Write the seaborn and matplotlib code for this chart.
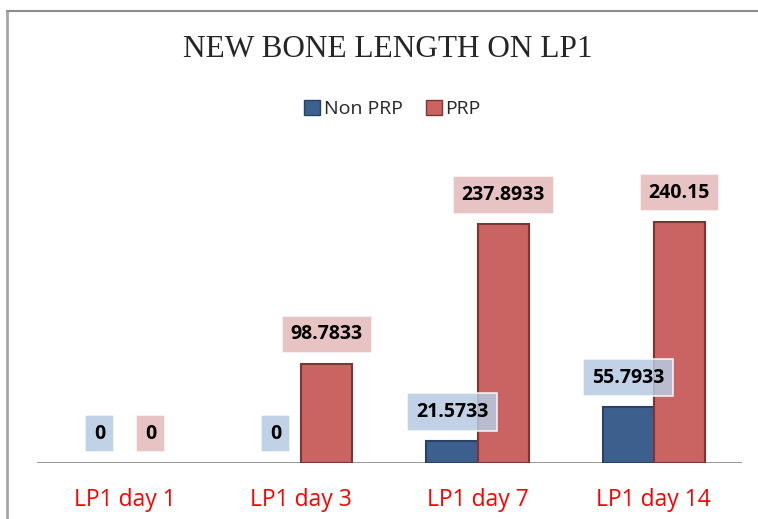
import pandas as pd
import seaborn as sns
import matplotlib.pyplot as plt
from matplotlib.lines import Line2D
from matplotlib.patches import Patch

# ------------------------
# Data
# ------------------------
days = ['LP1 day 1', 'LP1 day 3', 'LP1 day 7', 'LP1 day 14']
non_prp = [0, 0, 21.5733, 55.7933]
prp = [0, 98.7833, 237.8933, 240.15]
groups = ['Non PRP', 'PRP']

COLORS = {'Non PRP': '#3D5F8D', 'PRP': '#C96462'}
EDGES = {'Non PRP': '#26416A', 'PRP': '#7E3433'}
LABEL_BG = {'Non PRP': '#B7CBE3', 'PRP': '#E5B9B9'}

df = pd.DataFrame({
    'day': days * 2,
    'group': ['Non PRP'] * len(days) + ['PRP'] * len(days),
    'value': non_prp + prp,
})

# ------------------------
# Plotting
# ------------------------
sns.set_style('white')
plt.rcParams['font.family'] = ['Open Sans', 'DejaVu Sans']

fig = plt.figure(figsize=(7.58, 5.19), dpi=100)
ax = fig.add_axes([0.0488, 0.108, 0.930, 0.58])

sns.barplot(data=df, x='day', y='value', hue='group', order=days,
            hue_order=groups, palette=COLORS, width=0.58, saturation=1,
            legend=False, ax=ax)

for cont, g in zip(ax.containers, groups):
    vals = non_prp if g == 'Non PRP' else prp
    for bar, v in zip(cont, vals):
        bar.set_edgecolor(EDGES[g])
        bar.set_linewidth(1.5 if v > 0 else 0)
    labels = [str(v) for v in vals]
    ax.bar_label(cont, labels=labels, padding=14, fontsize=14,
                 fontweight='bold', color='black',
                 bbox=dict(boxstyle='square,pad=0.45', fc=LABEL_BG[g],
                           ec='white', lw=1.2, alpha=0.85))

# baseline
ax.axhline(0, color='#8C8C8C', lw=2, zorder=0)

ax.set_xlim(-0.5, 3.5)
ax.set_ylim(0, 300)
ax.set_xlabel('')
ax.set_ylabel('')
ax.set_yticks([])
ax.tick_params(axis='x', length=0, pad=18, labelsize=16.5, labelcolor='#FF0000')
sns.despine(ax=ax, left=True, bottom=True)

# title
fig.text(0.512, 0.905, 'NEW BONE LENGTH ON LP1', ha='center', va='center',
         fontsize=22.5, family='Liberation Serif')

# legend
handles = [Patch(facecolor=COLORS[g], edgecolor=EDGES[g], label=g) for g in groups]
fig.legend(handles=handles, loc='center', bbox_to_anchor=(0.518, 0.79), ncol=2,
           frameon=False, fontsize=14, handlelength=0.8, handleheight=0.8,
           handletextpad=0.2, columnspacing=1.2)

# chart area frame (left and top)
fig.add_artist(Line2D([7 / 758, 7 / 758], [0, 1 - 11 / 519], color='#A6A6A6', lw=2))
fig.add_artist(Line2D([7 / 758, 1], [1 - 11 / 519, 1 - 11 / 519], color='#8C8C8C', lw=1.5))

fig.savefig('out.png', dpi=100)
